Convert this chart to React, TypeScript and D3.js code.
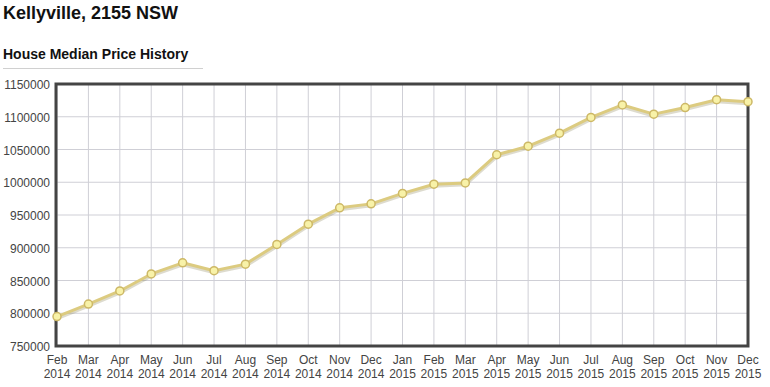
import React from "react";
import * as d3 from "d3";

const months = ["Feb","Mar","Apr","May","Jun","Jul","Aug","Sep","Oct","Nov","Dec","Jan","Feb","Mar","Apr","May","Jun","Jul","Aug","Sep","Oct","Nov","Dec"];
const years = ["2014","2014","2014","2014","2014","2014","2014","2014","2014","2014","2014","2015","2015","2015","2015","2015","2015","2015","2015","2015","2015","2015","2015"];
const prices = [795000,814000,834000,860000,877000,865000,875000,905000,936000,961000,967000,983000,997000,999000,1042000,1055000,1075000,1099000,1118000,1104000,1114000,1126000,1123000];
const yTicks = [750000,800000,850000,900000,950000,1000000,1050000,1100000,1150000];

const W = 770, H = 387;
const left = 56, right = 748, top = 84, bottom = 346;

export default function App() {
  const idx = d3.range(prices.length);
  const x = d3.scaleLinear().domain([0, prices.length - 1]).range([left + 1, right]);
  const y = d3.scaleLinear().domain([750000, 1150000]).range([bottom, top]);
  const line = d3.line<number>().x((i) => x(i)).y((i) => y(prices[i]));
  const font = "'Liberation Sans', Arial, Helvetica, sans-serif";
  return (
    <svg width={W} height={H} style={{ position: "absolute", left: 0, top: 0, background: "#fff" }} fontFamily={font}>
      <text x={3} y={19} fontSize={18} fontWeight="bold" fill="#111">Kellyville, 2155 NSW</text>
      <text x={3} y={59} fontSize={14} fontWeight="bold" fill="#111">House Median Price History</text>
      <line x1={3} x2={203} y1={68.5} y2={68.5} stroke="#d0d0d0" strokeWidth={1} />
      {idx.map((i) => (
        <line key={"vg" + i} x1={x(i)} x2={x(i)} y1={top} y2={bottom} stroke="#cfcfd6" strokeWidth={1} />
      ))}
      {yTicks.map((t) => (
        <line key={"hg" + t} x1={left} x2={right} y1={y(t)} y2={y(t)} stroke="#cfcfd6" strokeWidth={1} />
      ))}
      {yTicks.map((t) => (
        <text key={"yl" + t} x={50} y={y(t) + 5} fontSize={12} textAnchor="end" fill="#444">{t}</text>
      ))}
      {idx.map((i) => (
        <g key={"xl" + i}>
          <text x={x(i)} y={364} fontSize={12} textAnchor="middle" fill="#444">{months[i]}</text>
          <text x={x(i)} y={378} fontSize={12} textAnchor="middle" fill="#444">{years[i]}</text>
        </g>
      ))}
      <rect x={left} y={top} width={right - left} height={bottom - top} fill="none" stroke="#444" strokeWidth={3} />
      <path d={line(idx) || ""} fill="none" stroke="rgba(120,110,60,0.25)" strokeWidth={4} transform="translate(0,1.5)" />
      <path d={line(idx) || ""} fill="none" stroke="#dccb80" strokeWidth={3} strokeLinejoin="round" />
      {idx.map((i) => (
        <circle key={"pt" + i} cx={x(i)} cy={y(prices[i])} r={4} fill="#f8f2a8" stroke="#cdb866" strokeWidth={1.5} />
      ))}
    </svg>
  );
}
